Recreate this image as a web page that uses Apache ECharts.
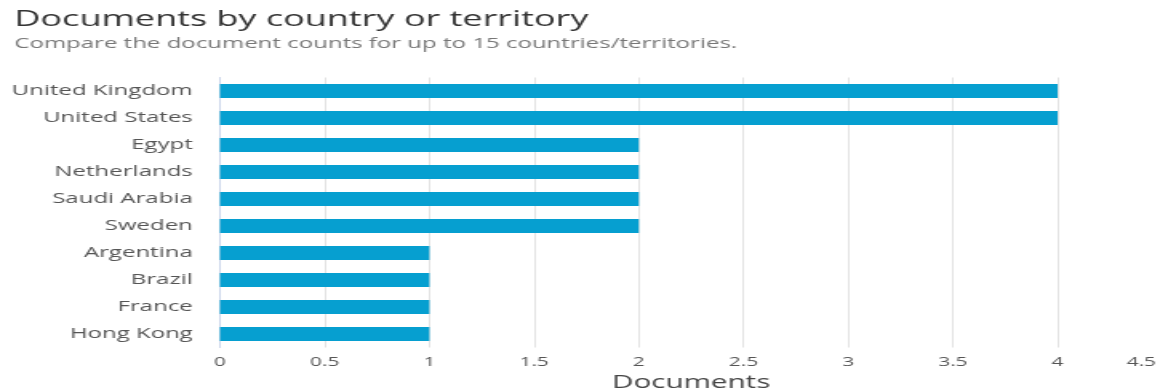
<!DOCTYPE html>
<html><head><meta charset="utf-8">
<script src="https://cdn.jsdelivr.net/npm/echarts@6/dist/echarts.min.js"></script>
<style>
html,body{margin:0;padding:0;background:#fff;overflow:hidden;width:1159px;height:391px}
#c{width:725px;height:391px;transform:scaleX(1.6);transform-origin:0 0}
</style>
</head><body><div id="c"></div>
<script>
const categories = ["United Kingdom","United States","Egypt","Netherlands","Saudi Arabia","Sweden","Argentina","Brazil","France","Hong Kong"];
const documents = [4,4,2,2,2,2,1,1,1,1];
const xTicks = [0,0.5,1,1.5,2,2.5,3,3.5,4,4.5];
const FONT = '"Open Sans", "Noto Sans", sans-serif';
const xMax = xTicks[xTicks.length-1];
const chart = echarts.init(document.getElementById('c'), null, {renderer:'canvas'});
chart.setOption({
  animation:false,
  title:{
    text:'Documents by country or territory',
    subtext:'Compare the document counts for up to 15 countries/territories.',
    left:4, top:3, itemGap:5,
    textStyle:{fontFamily:FONT, fontSize:22.5, fontWeight:'normal', color:'#333'},
    subtextStyle:{fontFamily:FONT, fontSize:15, color:'#777'}
  },
  grid:{left:137.5, top:77.5, width:589, height:270, containLabel:false, outerBoundsMode:'none'},
  xAxis:{
    type:'value', min:xTicks[0], max:xMax, interval:xTicks[1]-xTicks[0],
    name:'Documents', nameLocation:'middle', nameGap:26,
    nameTextStyle:{fontFamily:FONT, fontSize:18.5, color:'#444'},
    axisLine:{show:false}, axisTick:{show:false},
    axisLabel:{fontFamily:FONT, fontSize:13, color:'#555', margin:8, alignMaxLabel:'right',
      formatter:v=> v===xMax ? '{m|'+v+'}' : String(v),
      rich:{m:{fontFamily:FONT, fontSize:13, color:'#555', padding:[0,4,0,0]}}},
    splitLine:{show:true, lineStyle:{color:'#e3e3e3', width:1}}
  },
  yAxis:{
    type:'category', data:categories, inverse:true,
    axisLine:{show:true, lineStyle:{color:'#ccd6eb', width:1}},
    axisTick:{show:false},
    axisLabel:{fontFamily:FONT, fontSize:15, color:'#555', margin:17}
  },
  series:[{
    type:'bar', data:documents, barWidth:14,
    itemStyle:{color:'#069fd0'}
  }]
});
</script></body></html>
